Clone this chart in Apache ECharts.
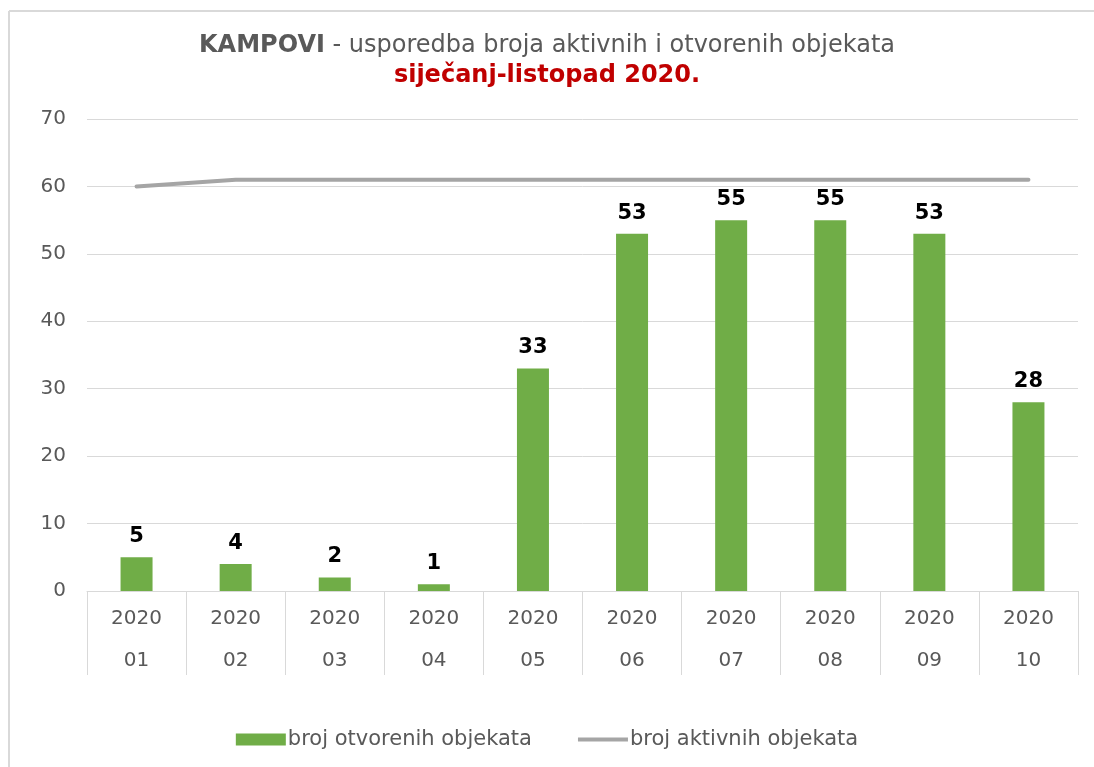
<!DOCTYPE html>
<html>
<head>
<meta charset="utf-8">
<script src="https://cdn.jsdelivr.net/npm/echarts@6/dist/echarts.min.js"></script>
<style>
html, body { margin: 0; padding: 0; background: #fff; }
#main { width: 1094px; height: 767px; }
</style>
</head>
<body>
<div id="main"></div>
<script>
// podaci
var godine = ['2020', '2020', '2020', '2020', '2020', '2020', '2020', '2020', '2020', '2020'];
var mjeseci = ['01', '02', '03', '04', '05', '06', '07', '08', '09', '10'];
var otvoreni = [5, 4, 2, 1, 33, 53, 55, 55, 53, 28];
var aktivni = [60, 61, 61, 61, 61, 61, 61, 61, 61, 61];
var yTicks = [0, 10, 20, 30, 40, 50, 60, 70];

var kategorije = godine.map(function (g, i) { return g + '\n' + mjeseci[i]; });
var font = '"DejaVu Sans", Verdana, sans-serif';

var myChart = echarts.init(document.getElementById('main'));
var option = {
    backgroundColor: '#fff',
    animation: false,
    title: {
        text: '{b|KAMPOVI} - usporedba broja aktivnih i otvorenih objekata\n{r|siječanj-listopad 2020.}',
        left: 'center',
        top: 26,
        textStyle: {
            fontFamily: font,
            fontSize: 24,
            fontWeight: 'normal',
            color: '#595959',
            lineHeight: 30,
            rich: {
                b: { fontFamily: font, fontSize: 24, fontWeight: 'bold', color: '#595959', lineHeight: 30 },
                r: { fontFamily: font, fontSize: 24, fontWeight: 'bold', color: '#C00000', lineHeight: 30 }
            }
        }
    },
    graphic: [
        { type: 'line', shape: { x1: 9, y1: 11, x2: 1094, y2: 11 }, style: { stroke: '#d9d9d9', lineWidth: 2 } },
        { type: 'line', shape: { x1: 9, y1: 11, x2: 9, y2: 767 }, style: { stroke: '#d9d9d9', lineWidth: 2 } }
    ],
    legend: {
        bottom: 12,
        left: 'center',
        itemGap: 46,
        itemWidth: 50,
        itemHeight: 12,
        textStyle: { fontFamily: font, fontSize: 21, color: '#595959', padding: [0, 0, 0, -3] },
        data: [
            { name: 'broj otvorenih objekata', icon: 'rect' },
            { name: 'broj aktivnih objekata', icon: 'path://M0,0 L48,0 L48,4 L0,4 Z' }
        ]
    },
    grid: { left: 87, right: 16, top: 119, bottom: 176 },
    xAxis: {
        type: 'category',
        data: kategorije,
        axisLine: { lineStyle: { color: '#d9d9d9', width: 1 } },
        axisTick: { show: true, interval: 0, length: 84, lineStyle: { color: '#d9d9d9' } },
        axisLabel: {
            interval: 0,
            fontFamily: font,
            fontSize: 20,
            color: '#595959',
            lineHeight: 42,
            margin: 7
        }
    },
    yAxis: {
        type: 'value',
        min: yTicks[0],
        max: yTicks[yTicks.length - 1],
        interval: 10,
        axisLine: { show: false },
        axisTick: { show: false },
        axisLabel: { fontFamily: font, fontSize: 20, color: '#595959', margin: 21 },
        splitLine: { lineStyle: { color: '#d9d9d9', width: 1 } }
    },
    series: [
        {
            name: 'broj otvorenih objekata',
            type: 'bar',
            data: otvoreni,
            barWidth: 32,
            itemStyle: { color: '#70AD47' },
            label: {
                show: true,
                position: 'top',
                distance: 10,
                fontFamily: font,
                fontSize: 21,
                fontWeight: 'bold',
                color: '#000'
            }
        },
        {
            name: 'broj aktivnih objekata',
            type: 'line',
            data: aktivni,
            symbol: 'none',
            lineStyle: { color: '#A5A5A5', width: 4, cap: 'round' },
            itemStyle: { color: '#A5A5A5' }
        }
    ]
};
myChart.setOption(option);
</script>
</body>
</html>
